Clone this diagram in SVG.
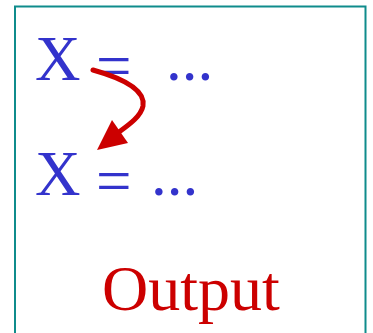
<svg xmlns="http://www.w3.org/2000/svg" width="373" height="333" viewBox="0 0 373 333">
<style>
.eq{font-family:"Liberation Serif","Times New Roman",serif;font-size:63px;fill:#3333cc}
.out{font-family:"Liberation Serif","Times New Roman",serif;font-size:64px;fill:#cc0000}
.arr{fill:none;stroke:#cc0000;stroke-width:5;stroke-linecap:round}
</style>
<rect x="0" y="0" width="373" height="333" fill="#ffffff"/>
<g id="frame">
<path d="M15,340 V6.5 H365.5 V340" fill="none" stroke="#0f8c8c" stroke-width="2"/>
</g>
<g id="line1">
<text class="eq" x="35" y="80">X</text>
<text class="eq" x="96" y="87">=</text>
<text class="eq" x="166" y="80">...</text>
</g>
<g id="line2">
<text class="eq" x="35" y="195">X</text>
<text class="eq" x="96" y="202">=</text>
<text class="eq" x="151" y="195">...</text>
</g>
<g id="label">
<text class="out" x="191" y="310" text-anchor="middle">Output</text>
</g>
<g id="connectors">
<path class="arr" d="M93,70 C118,77 146,88 143,106 C141,116 130,124 119,132"/>
<polygon points="97,150 112,120 128,143" fill="#cc0000"/>
</g>
</svg>
